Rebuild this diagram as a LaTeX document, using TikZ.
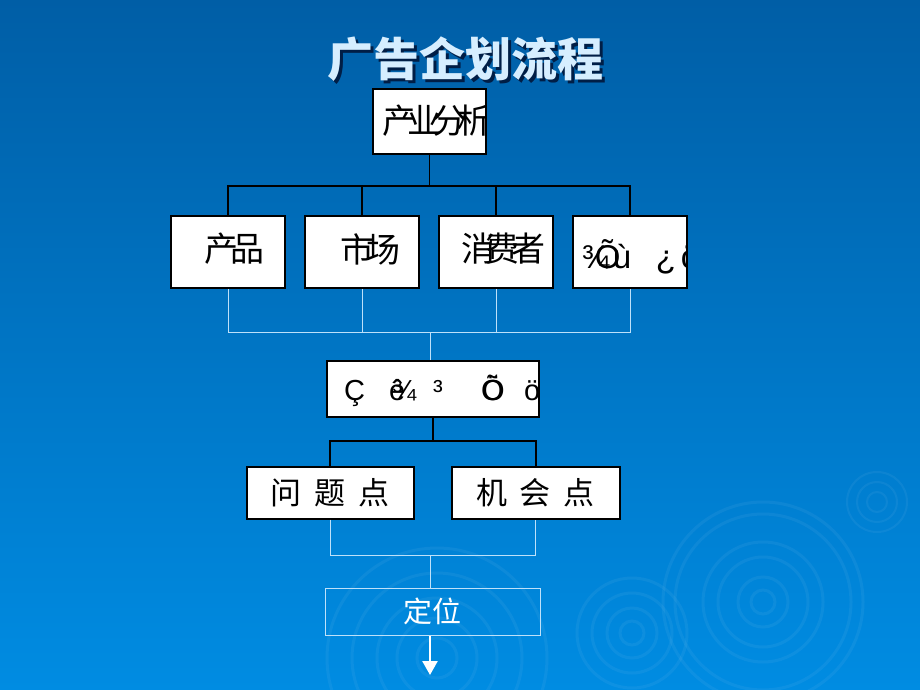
\documentclass[tikz,border=0pt]{standalone}
\usepackage{fontspec}
\setmainfont{Liberation Sans}
\newfontfamily\cjk{Noto Sans CJK SC}
\usetikzlibrary{arrows.meta,positioning,calc}

\definecolor{bgtop}{RGB}{0,94,166}
\definecolor{bgbot}{RGB}{0,140,226}
\definecolor{titlecol}{RGB}{214,238,255}
\definecolor{shadowcol}{RGB}{0,30,70}
\definecolor{litecol}{RGB}{190,225,250}

\begin{document}
\begin{tikzpicture}[
  x=1pt, y=-1pt,
  box/.style={rectangle, draw=black, fill=white, line width=1.5pt, inner sep=0pt},
  blk/.style={draw=black, line width=1.2pt},
  lite/.style={draw=litecol, line width=0.9pt},
  ripple/.style={draw=white, opacity=0.05, line width=3pt},
  boxtxt/.style={font={\cjk\fontsize{34}{38}\selectfont}, inner sep=0pt, minimum size=0pt, draw=none, fill=none, anchor=west},
  junk/.style={font={\fontsize{29}{32}\selectfont}, inner sep=0pt, minimum size=0pt, draw=none, fill=none, anchor=base west},
  ttl/.style={font={\cjk\bfseries\fontsize{46}{50}\selectfont}}
]

% background
\fill[top color=bgtop, bottom color=bgbot] (0,0) rectangle (920,690);
\begin{scope}
  \clip (0,0) rectangle (920,690);
  \foreach \r in {12,25,45,60,88,100} \draw[ripple] (763,602) circle (\r);
  \foreach \r in {10,20,30} \draw[ripple, line width=2pt] (877,502) circle (\r);
  \foreach \r in {12,25,40,55} \draw[ripple] (632,633) circle (\r);
  \foreach \r in {20,40,60,85,110} \draw[ripple] (437,658) circle (\r);
\end{scope}

\node[ttl, text=shadowcol] (titlesh) at (468,62) {广告企划流程};
\node[ttl, text=titlecol] (title) at (465,59) {广告企划流程};

% boxes (texts clipped by the box)
\node[box, minimum width=113, minimum height=65,
  path picture={\node[boxtxt] (indtxt) at ([xshift=-47.5, yshift=0.5]path picture bounding box.center) {产\kern-9pt 业\kern-9pt 分\kern-9pt 析};}] (ind) at (429.5,121.5) {};
\node[box, minimum width=114, minimum height=72,
  path picture={\node[boxtxt] (r1txt) at ([xshift=-24, yshift=3]path picture bounding box.center) {产\kern-8pt 品};}] (r1) at (228,252) {};
\node[box, minimum width=114, minimum height=72,
  path picture={\node[boxtxt] (r2txt) at ([xshift=-22, yshift=3]path picture bounding box.center) {市\kern-8pt 场};}] (r2) at (362,252) {};
\node[box, minimum width=114, minimum height=72,
  path picture={\node[boxtxt] (r3txt) at ([xshift=-35, yshift=3]path picture bounding box.center) {消\kern-10pt 费\kern-8pt 者};}] (r3) at (496,252) {};
\node[box, minimum width=114, minimum height=72,
  path picture={
    \foreach \gn/\gx/\gc in {a/-49/¾,b/-36/Õ,c/-18/ù,d/25/¿,e/50/ö}
      \node[junk, font={\fontsize{33}{36}\selectfont}] (r4g\gn) at ([xshift=\gx, yshift=-16]path picture bounding box.center) {\gc};
  }] (r4) at (630,252) {};

\node[box, line width=2pt, minimum width=212, minimum height=56,
  path picture={
    \foreach \gn/\gx/\gc in {a/-89.5/Ç,b/-44.5/ê,c/-41.5/¾,d/-0.5/³,e/47.5/Õ,f/48.5/Ö,g/90.5/ö}
      \node[junk] (infog\gn) at ([xshift=\gx, yshift=-11]path picture bounding box.center) {\gc};
  }] (info) at (432.5,389) {};

\node[box, line width=2pt, minimum width=167, minimum height=52,
  font={\cjk\fontsize{31}{34}\selectfont}] (prob) at (330,492.5) {问\hspace{13pt}题\hspace{13pt}点};
\node[box, line width=2pt, minimum width=168, minimum height=52,
  font={\cjk\fontsize{31}{34}\selectfont}] (opp) at (535.5,492.5) {机\hspace{13pt}会\hspace{13pt}点};
\node[draw=litecol, line width=1pt, minimum width=215, minimum height=47, inner sep=0pt,
  text=white, font={\cjk\fontsize{29}{32}\selectfont}] (pos) at (432.5,611.5) {定位};

% connectors
\coordinate (bus1) at (430,186);
\draw[blk] (ind.south) -- (ind.south |- bus1);
\draw[blk] (r1.north) -- (r1.north |- bus1) -- (r4.north |- bus1) -- (r4.north);
\foreach \i in {2,3} \draw[blk] (r\i.north) -- (r\i.north |- bus1);

\coordinate (bus2) at (430,332);
\draw[lite] (r1.south) -- (r1.south |- bus2) -- (r4.south |- bus2) -- (r4.south);
\foreach \i in {2,3} \draw[lite] (r\i.south) -- (r\i.south |- bus2);
\draw[lite] (bus2) -- (bus2 |- info.north);

\coordinate (bus3) at (433,441);
\draw[blk, line width=2pt] (info.south) -- (info.south |- bus3);
\draw[blk, line width=2pt] (prob.north) -- (prob.north |- bus3) -- (opp.north |- bus3) -- (opp.north);

\coordinate (bus4) at (430,555);
\draw[lite] (prob.south) -- (prob.south |- bus4) -- (opp.south |- bus4) -- (opp.south);
\draw[lite] (bus4) -- (bus4 |- pos.north);

\coordinate (tip) at (430,675);
\draw[white, line width=2.5pt, -{Triangle[width=15pt,length=14pt]}] (pos.south -| tip) -- (tip);

\end{tikzpicture}
\end{document}
